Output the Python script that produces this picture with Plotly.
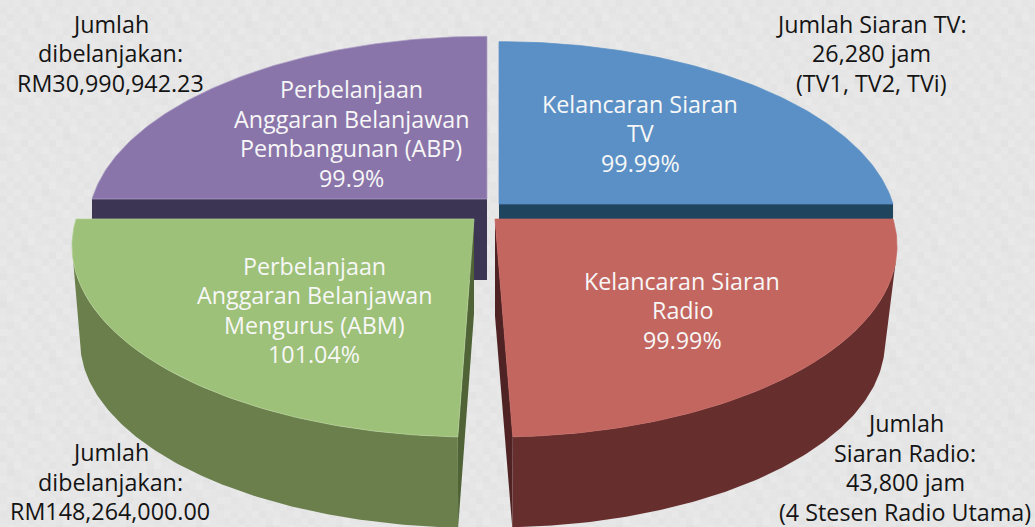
import math
import plotly.graph_objects as go

# ---- data ----
categories = ["Kelancaran Siaran TV", "Kelancaran Siaran Radio",
              "Perbelanjaan ABM", "Perbelanjaan ABP"]
sweeps_deg = [90.0, 87.8, 88.0, 90.0]      # slice sizes, clockwise from 12 o'clock
gaps_after_deg = [0.0, 4.2, 0.0, 0.0]
slice_labels = [
    "Kelancaran Siaran<br>TV<br>99.99%",
    "Kelancaran Siaran<br>Radio<br>99.99%",
    "Perbelanjaan<br>Anggaran Belanjawan<br>Mengurus (ABM)<br>101.04%",
    "Perbelanjaan<br>Anggaran Belanjawan<br>Pembangunan (ABP)<br>99.9%",
]
note_labels = [
    "Jumlah Siaran TV:<br>26,280 jam<br>(TV1, TV2, TVi)",
    "Jumlah<br>Siaran Radio:<br>43,800 jam<br>(4 Stesen Radio Utama)",
    "Jumlah<br>dibelanjakan:<br>RM148,264,000.00",
    "Jumlah<br>dibelanjakan:<br>RM30,990,942.23",
]
# background tile of grey levels, read from the texture
bg_tile = [
    [230, 229, 231, 228, 230, 232, 229, 231, 227, 230],
    [228, 231, 229, 232, 227, 230, 231, 228, 230, 232],
    [231, 227, 230, 229, 231, 228, 233, 230, 229, 228],
    [229, 232, 228, 231, 230, 226, 229, 231, 232, 230],
    [232, 229, 230, 227, 232, 230, 228, 229, 231, 227],
    [227, 230, 233, 229, 228, 231, 230, 232, 228, 231],
    [230, 228, 229, 232, 230, 229, 227, 230, 233, 229],
    [229, 231, 227, 230, 229, 232, 231, 228, 230, 231],
]

# ---- style and projection settings ----
top_colors = ["#5a90c5", "#c46660", "#9dc178", "#8a75aa"]
top_edge_colors = ["#5a90c5", "#c46660", "#b5d19a", "#ada0c6"]
wall_colors = ["#1f445e", "#662f2e", "#6b7f4c", "#3c3553"]
radial_colors = ["#1f445e", "#4f2323", "#4f6337", "#3c3553"]
apex_x = [499, 495, 474, 487]
apex_y = [204, 219, 219, 199]
radius_scale = [0.99, 1.0, 1.0, 0.9925]
bottom_scale = [1.0, 0.97, 0.98, 1.0]
depth = [30.0, 97.0, 95.0, 81.0]
slice_label_pos = [(640, 133), (682, 310), (314, 310), (351, 133.5)]
note_pos = [(871, 53), (905, 467.5), (110, 481.5), (110, 53)]
RADIUS, HEIGHT, PERSP = 398.0, 187.2, 0.1414
LINE_PITCH = 29.5
FONT_SIZE = 23.3
CELL = 7


def project(theta, ax, ay, scale=1.0):
    x, y = math.sin(theta), -math.cos(theta)
    w = 1 - PERSP * y
    return ax + scale * RADIUS * x / w, ay + scale * HEIGHT * y / w


def arc(t0, t1, ax, ay, scale=1.0, n=120):
    pts = [project(t0 + (t1 - t0) * i / n, ax, ay, scale) for i in range(n + 1)]
    return [p[0] for p in pts], [p[1] for p in pts]


def poly(fig, xs, ys, color, line=None):
    fig.add_trace(go.Scatter(x=xs, y=ys, mode="lines", fill="toself", fillcolor=color,
                             line=dict(color=line or color, width=0.7 if line else 0),
                             hoverinfo="skip", showlegend=False))


starts, ends = [], []
pos = 0.0
for sw, gap in zip(sweeps_deg, gaps_after_deg):
    starts.append(math.radians(pos))
    ends.append(math.radians(pos + sw))
    pos += sw + gap

fig = go.Figure()

# textured page background
rows = 527 // CELL + 1
cols = 1035 // CELL + 1
z = [[bg_tile[r % len(bg_tile)][(c + 3 * (r // len(bg_tile))) % len(bg_tile[0])]
      for c in range(cols)] for r in range(rows)]
fig.add_trace(go.Heatmap(z=z, x0=CELL / 2, dx=CELL, y0=CELL / 2, dy=CELL, zmin=220, zmax=240,
                         colorscale=[[0, "rgb(220,220,220)"], [1, "rgb(240,240,240)"]],
                         showscale=False, hoverinfo="skip"))

# back slices: flat cut faces
for i, edge in ((3, starts[3]), (0, ends[0])):
    ax, ay = apex_x[i], apex_y[i]
    edge_x = project(edge, ax, ay, radius_scale[i])[0]
    xs = [ax, edge_x, edge_x, ax, ax]
    ys = [ay, ay, ay + depth[i], ay + depth[i], ay]
    poly(fig, xs, ys, wall_colors[i])

# front slices: radial cut face, then outer wall
for i in (1, 2):
    ax, ay = apex_x[i], apex_y[i]
    s = radius_scale[i]
    b = bottom_scale[i]
    inner = ends[1] if i == 1 else starts[2]
    fx, fy = project(inner, ax, ay, s)
    bx, by = project(inner, ax, ay + depth[i], b)
    poly(fig, [ax, fx, bx, ax, ax], [ay, fy, by, ay + depth[i], ay], radial_colors[i])

    if i == 1:
        t_top, t_bot = starts[1] + math.radians(12.5), ends[1]
    else:
        t_top, t_bot = starts[2], ends[2] - math.radians(12.5)
    tx, ty = arc(t_top, t_bot, ax, ay, s)
    bx2, by2 = arc(t_top, t_bot, ax, ay + depth[i], b)
    poly(fig, tx + bx2[::-1] + tx[:1], ty + by2[::-1] + ty[:1], wall_colors[i])

# top faces
for i in range(4):
    ax, ay = apex_x[i], apex_y[i]
    xs, ys = arc(starts[i], ends[i], ax, ay, radius_scale[i])
    poly(fig, [ax] + xs + [ax], [ay] + ys + [ay], top_colors[i], top_edge_colors[i])


def add_block(annotations, text, x, y, color):
    lines = text.split("<br>")
    for k, line in enumerate(lines):
        annotations.append(dict(x=x, y=y + (k - (len(lines) - 1) / 2) * LINE_PITCH, text=line,
                                showarrow=False, xanchor="center", yanchor="middle", align="center",
                                font=dict(color=color, size=FONT_SIZE, family="Open Sans")))


annotations = []
for txt, (x, y) in zip(slice_labels, slice_label_pos):
    add_block(annotations, txt, x, y, "#f7f7f7")
for txt, (x, y) in zip(note_labels, note_pos):
    add_block(annotations, txt, x, y, "#141414")

fig.update_layout(
    width=1035, height=527, margin=dict(l=0, r=0, t=0, b=0),
    paper_bgcolor="#e6e6e6", plot_bgcolor="#e6e6e6", showlegend=False,
    xaxis=dict(range=[0, 1035], visible=False, fixedrange=True),
    yaxis=dict(range=[527, 0], visible=False, fixedrange=True),
    annotations=annotations,
)
fig.write_html("out.html", config={"displayModeBar": False},
               post_script="document.body.style.margin='0';")
